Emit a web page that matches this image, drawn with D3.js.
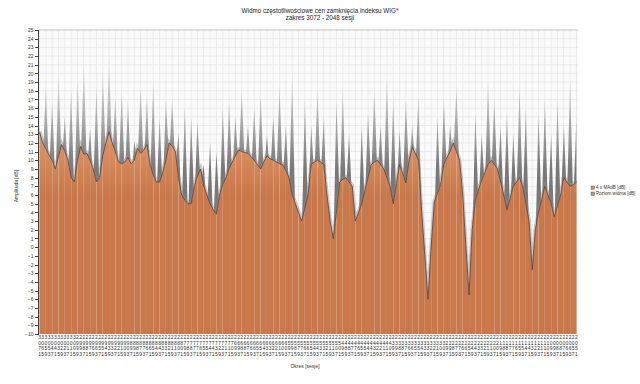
<!DOCTYPE html>
<meta charset="utf-8">
<head>
    <title>Widmo WIG</title>
</head>
<style>
    body {
        margin: 0;
        background-color: #ffffff;
        font-family: "Liberation Sans", Arial;
    }

    .axis path,
    .axis line {
        fill: none;
        stroke: #444;
        stroke-width: 1px;
        shape-rendering: crispEdges;
    }

    .axis text {
        font-size: 5px;
        fill: #333;
    }

    text.title {
        font-size: 6.3px;
        fill: #222;
    }
</style>
<body>
    <svg width="640" height="384"></svg>
</body>
<script src="https://d3js.org/d3.v7.min.js"></script>
<script>
    // okresy (sesje) - etykiety osi x
    var periods = [
        3071, 3065, 3059, 3053, 3047, 3041, 3035, 3029, 3023, 3017,
        3011, 3005, 2999, 2993, 2987, 2981, 2975, 2969, 2963, 2957,
        2951, 2945, 2939, 2933, 2927, 2921, 2915, 2909, 2903, 2897,
        2891, 2885, 2879, 2873, 2867, 2861, 2855, 2849, 2843, 2837,
        2831, 2825, 2819, 2813, 2807, 2801, 2795, 2789, 2783, 2777,
        2771, 2765, 2759, 2753, 2747, 2741, 2735, 2729, 2723, 2717,
        2711, 2705, 2699, 2693, 2687, 2681, 2675, 2669, 2663, 2657,
        2651, 2645, 2639, 2633, 2627, 2621, 2615, 2609, 2603, 2597,
        2591, 2585, 2579, 2573, 2567, 2561, 2555, 2549, 2543, 2537,
        2531, 2525, 2519, 2513, 2507, 2501, 2495, 2489, 2483, 2477,
        2471, 2465, 2459, 2453, 2447, 2441, 2435, 2429, 2423, 2417,
        2411, 2405, 2399, 2393, 2387, 2381, 2375, 2369, 2363, 2357,
        2351, 2345, 2339, 2333, 2327, 2321, 2315, 2309, 2303, 2297,
        2291, 2285, 2279, 2273, 2267, 2261, 2255, 2249, 2243, 2237,
        2231, 2225, 2219, 2213, 2207, 2201, 2195, 2189, 2183, 2177,
        2171, 2165, 2159, 2153, 2147, 2141, 2135, 2129, 2123, 2117,
        2111, 2105, 2099, 2093, 2087, 2081, 2075, 2069, 2063, 2057,
        2051
    ];

    // 4 x MAdB [dB]
    var maValues = [
        13.2, 12.0, 11.3, 10.6, 10.0, 9.0, 10.5, 11.8, 11.0, 10.0,
        8.0, 7.5, 10.0, 11.6, 10.7, 10.8, 10.0, 9.0, 7.5, 8.0,
        10.5, 12.0, 13.3, 12.0, 11.0, 9.8, 9.6, 9.8, 10.3, 9.6,
        10.0, 11.4, 10.8, 11.2, 11.8, 9.5, 8.3, 7.5, 7.5, 8.6,
        10.0, 12.0, 11.6, 11.0, 8.0, 6.0, 5.4, 5.0, 5.0, 7.0,
        8.2, 9.0, 7.0, 6.0, 5.0, 4.3, 3.8, 6.0, 7.2, 8.0,
        9.0, 9.8, 10.5, 11.2, 11.0, 10.9, 10.8, 10.4, 10.0, 9.5,
        9.0, 9.8, 10.5, 10.2, 10.0, 9.8, 9.6, 9.5, 8.8, 8.0,
        6.0, 5.0, 4.0, 3.0, 4.5, 6.0, 9.5, 9.8, 10.0, 9.8,
        9.5, 6.0, 3.0, 1.0, 4.0, 7.5, 7.8, 8.0, 7.5, 7.0,
        3.0, 4.0, 5.0, 6.5, 8.0, 9.5, 9.8, 10.0, 9.5, 9.0,
        8.0, 7.0, 5.0, 7.3, 9.5, 8.5, 7.4, 10.0, 11.5, 10.8,
        10.0, 4.0, -1.0, -6.0, 0.0, 5.2, 6.2, 7.2, 9.5, 10.3,
        11.0, 12.0, 11.0, 10.0, 6.0, 0.0, -5.5, 2.0, 5.4, 6.6,
        7.7, 8.6, 9.5, 10.0, 9.5, 9.0, 7.5, 6.0, 4.3, 5.6,
        7.0, 7.5, 8.0, 7.0, 5.0, 3.0, -2.6, 2.0, 4.0, 5.5,
        7.0, 6.0, 5.0, 3.5, 4.8, 6.0, 8.0, 7.5, 7.0, 7.2,
        7.5
    ];

    // poziom widma [dB]
    var spectrumValues = [
        14, 10, 18.4, 8.5, 16.7, 7, 19.8, 9.5, 15, 8,
        18.1, 5.5, 19.2, 9.5, 21.2, 8.5, 13.7, 7, 18.4, 6,
        20.2, 10, 21.8, 10, 17.2, 8, 17.9, 8, 16.7, 7.5,
        12.3, 9.5, 18.4, 9, 17.3, 7.5, 19, 5.5, 14.9, 6.5,
        16.9, 10, 16.9, 9, 13.1, 4, 16.1, 3, 14.9, 5,
        14.4, 7, 9.5, 4, 12, 2.5, 11, 4, 16, 6,
        16.7, 8, 15, 9, 18, 9, 14, 8.5, 16, 7.5,
        17.5, 8, 13, 8, 15, 8, 18.5, 7.5, 14, 6,
        19.8, 3, 3, 1, 17, 4, 14, 8, 18, 8,
        15, 4, 2, -1, 17, 5.5, 18, 6, 13, 5,
        2, 2, 14, 4.5, 15.5, 7.5, 18, 8, 14, 7,
        19.5, 5, 17, 5, 13.5, 6.5, 17, 8, 14, 9,
        17.5, 2, -3, -8, -2, 3, 15, 5, 17, 8.5,
        14, 10, 18.5, 8, 4, -2, -7.5, 0, 15.5, 4.5,
        13, 6.5, 19, 8, 17, 7, 14, 4, 15.5, 3.5,
        13, 5.5, 18.5, 5, 16, 1, -4.5, 0, 15.5, 3.5,
        17, 4, 13, 1.5, 17, 4, 14, 5.5, 19, 5,
        15
    ];

    var yTicks = d3.range(-10, 26);

    var svg = d3.select("svg"),
        margin = {
            top: 30,
            right: 62,
            bottom: 50,
            left: 38
        },
        width = +svg.attr("width"),
        height = +svg.attr("height");

    var x = d3.scaleBand()
        .domain(periods)
        .range([margin.left, width - margin.right]);

    var y = d3.scaleLinear()
        .domain([-10, 25])
        .range([height - margin.bottom, margin.top]);

    var maPoints = maValues.map((v, i) => ({ p: periods[i], v: v }));
    var specPoints = spectrumValues.map((v, i) => ({ p: periods[i], v: v }));

    var px = d => x(d.p) + x.bandwidth() / 2;

    var defs = svg.append("defs");

    defs.append("clipPath")
        .attr("id", "plotClip")
        .append("rect")
        .attr("x", margin.left)
        .attr("y", margin.top)
        .attr("width", width - margin.right - margin.left)
        .attr("height", height - margin.bottom - margin.top);

    var grad = defs.append("linearGradient")
        .attr("id", "greyGrad")
        .attr("gradientUnits", "userSpaceOnUse")
        .attr("x1", 0).attr("x2", 0)
        .attr("y1", y(22)).attr("y2", y(9));
    grad.append("stop").attr("offset", "0%").attr("stop-color", "#e8e8e8");
    grad.append("stop").attr("offset", "55%").attr("stop-color", "#adadad");
    grad.append("stop").attr("offset", "100%").attr("stop-color", "#787878");

    var oGrad = defs.append("linearGradient")
        .attr("id", "orangeGrad")
        .attr("gradientUnits", "userSpaceOnUse")
        .attr("x1", 0).attr("x2", 0)
        .attr("y1", y(14)).attr("y2", y(6));
    oGrad.append("stop").attr("offset", "0%").attr("stop-color", "#e29a6c");
    oGrad.append("stop").attr("offset", "100%").attr("stop-color", "#c8784b");

    // tlo i siatka
    svg.append("rect")
        .attr("x", margin.left)
        .attr("y", margin.top)
        .attr("width", width - margin.right - margin.left)
        .attr("height", height - margin.bottom - margin.top)
        .attr("fill", "#fbfbfb");

    svg.append("g")
        .selectAll("line")
        .data(periods.filter((d, i) => i % 2 == 0))
        .enter()
        .append("line")
        .attr("x1", d => x(d) + x.bandwidth() / 2)
        .attr("x2", d => x(d) + x.bandwidth() / 2)
        .attr("y1", margin.top)
        .attr("y2", height - margin.bottom)
        .attr("stroke", "#ebebeb")
        .attr("stroke-width", 1);

    svg.append("g")
        .selectAll("line")
        .data(yTicks)
        .enter()
        .append("line")
        .attr("x1", margin.left)
        .attr("x2", width - margin.right)
        .attr("y1", d => y(d))
        .attr("y2", d => y(d))
        .attr("stroke", "#e3e3e3")
        .attr("stroke-width", 0.6);

    var plot = svg.append("g").attr("clip-path", "url(#plotClip)");

    var area = d3.area()
        .x(px)
        .y0(y(-10))
        .y1(d => y(d.v));

    var line = d3.line()
        .x(px)
        .y(d => y(d.v));

    plot.append("path")
        .datum(specPoints)
        .attr("d", area)
        .attr("fill", "url(#greyGrad)");

    // cien pod krzywa
    plot.append("path")
        .datum(maPoints)
        .attr("d", line)
        .attr("fill", "none")
        .attr("stroke", "#8a8a8a")
        .attr("stroke-opacity", 0.45)
        .attr("stroke-width", 3.5)
        .attr("transform", "translate(0,-1)");

    // biale podloze, zeby szwy miedzy segmentami byly jasne
    plot.append("path")
        .datum(maPoints)
        .attr("d", area)
        .attr("fill", "#ffffff");

    // pole rysowane odcinkami co 2 punkty (jasne szwy jak w oryginale)
    plot.selectAll(".maSeg")
        .data(d3.range(0, maPoints.length - 1, 2))
        .enter()
        .append("path")
        .attr("class", "maSeg")
        .attr("d", i => area(maPoints.slice(i, i + 3)))
        .attr("fill", "url(#orangeGrad)");

    plot.append("path")
        .datum(maPoints)
        .attr("d", line)
        .attr("fill", "none")
        .attr("stroke", "#5a4a42")
        .attr("stroke-width", 0.9);

    // ramka u gory
    svg.append("line")
        .attr("x1", margin.left)
        .attr("x2", width - margin.right)
        .attr("y1", y(25))
        .attr("y2", y(25))
        .attr("stroke", "#c8c8c8");

    // os y
    var yAxis = d3.axisLeft(y)
        .tickValues(yTicks)
        .tickSize(3)
        .tickPadding(1.5)
        .tickFormat(d3.format("d"));

    svg.append("g")
        .attr("class", "axis")
        .attr("transform", "translate(" + margin.left + ",0)")
        .call(yAxis)
        .call(g => g.select(".domain").attr("stroke", "#555"));

    // etykiety osi x - cyfry jedna pod druga
    var xl = svg.append("g")
        .selectAll("text")
        .data(periods)
        .enter()
        .append("text")
        .attr("font-size", "5px")
        .attr("fill", "#333")
        .attr("text-anchor", "middle");

    xl.selectAll("tspan")
        .data(d => String(d).split("").map(c => ({ c: c, p: d })))
        .enter()
        .append("tspan")
        .attr("x", d => x(d.p) + x.bandwidth() / 2)
        .attr("y", (d, i) => y(-10) + 5.2 + i * 5.5)
        .text(d => d.c);

    // tytul
    svg.append("text")
        .attr("class", "title")
        .attr("x", 320)
        .attr("y", 13)
        .attr("text-anchor", "middle")
        .text("Widmo częstotliwościowe cen zamknięcia indeksu WIG*");

    svg.append("text")
        .attr("class", "title")
        .attr("x", 320)
        .attr("y", 20)
        .attr("text-anchor", "middle")
        .text("zakres 3072 - 2048 sesji");

    svg.append("text")
        .attr("transform", "translate(18,186) rotate(-90)")
        .attr("text-anchor", "middle")
        .attr("font-size", "5px")
        .attr("fill", "#333")
        .text("Amplituda [dB]");

    svg.append("text")
        .attr("x", 305)
        .attr("y", 368)
        .attr("text-anchor", "middle")
        .attr("font-size", "5px")
        .attr("fill", "#333")
        .text("Okres [sesje]");

    // legenda
    var legendItems = [
        { name: "4 x MAdB [dB]", color: "#e08a55" },
        { name: "Poziom widma [dB]", color: "#9a9a9a" }
    ];

    var legend = svg.append("g")
        .selectAll("g")
        .data(legendItems)
        .enter()
        .append("g")
        .attr("transform", (d, i) => "translate(591," + (186 + i * 6) + ")");

    legend.append("rect")
        .attr("width", 3.5)
        .attr("height", 3.5)
        .attr("fill", d => d.color)
        .attr("stroke", "#555")
        .attr("stroke-width", 0.4);

    legend.append("text")
        .attr("x", 5)
        .attr("y", 3.3)
        .attr("font-size", "4.6px")
        .attr("fill", "#333")
        .text(d => d.name);
</script>
